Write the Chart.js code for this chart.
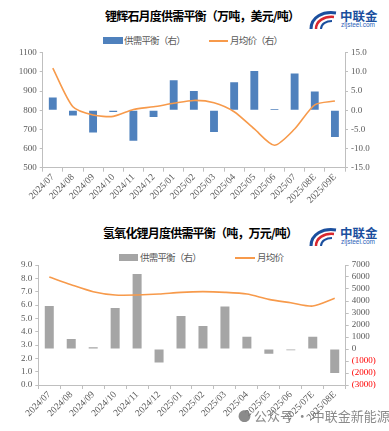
<!DOCTYPE html>
<html><head><meta charset="utf-8">
<script src="https://cdn.jsdelivr.net/npm/chart.js@4.4.1/dist/chart.umd.min.js"></script>
<style>
html,body{margin:0;padding:0;background:#fff;}
body{width:389px;height:431px;position:relative;overflow:hidden;font-family:"Noto Sans CJK SC","Noto Sans",sans-serif;}
.c{position:absolute;left:0;width:389px;}
.title{position:absolute;font-weight:bold;font-size:12px;color:#000;white-space:nowrap;line-height:16px;letter-spacing:-0.8px;}
.leg{position:absolute;font-size:9.5px;color:#595959;white-space:nowrap;line-height:13px;letter-spacing:-0.8px;}
.sw{position:absolute;}
.logo{position:absolute;width:72px;height:22px;}
.logo .t{position:absolute;left:32px;top:-3px;font-weight:bold;font-size:12.5px;color:#1b4f9e;}
.logo .u{position:absolute;left:33px;top:12px;font-size:6.5px;color:#2b62b8;font-family:"Liberation Sans",sans-serif;}
.wm{position:absolute;left:238px;top:406px;font-size:13px;color:#777;white-space:nowrap;opacity:.85;}
</style></head><body>

<div class="title" style="left:105px;top:8px;">锂辉石月度供需平衡（万吨，美元/吨）</div>
<div class="logo" style="left:308px;top:9px;">
<svg width="30" height="22" viewBox="0 0 30 22" style="position:absolute;left:0;top:0">
<path d="M3 20 C 3 8, 15 2, 28 4" stroke="#1b4f9e" stroke-width="3" fill="none"/>
<path d="M8 20 C 8 12, 16 7, 26 8" stroke="#d8282f" stroke-width="2.5" fill="none"/>
<path d="M13 20 C 13 15, 18 12, 24 12" stroke="#1b4f9e" stroke-width="2" fill="none"/>
</svg>
<span class="t">中联金</span><span class="u">zljsteel.com</span></div>
<div class="sw" style="left:103px;top:37px;width:20px;height:7px;background:#4f81bd;"></div>
<div class="leg" style="left:124px;top:34px;">供需平衡（右）</div>
<div class="sw" style="left:209px;top:40px;width:19px;height:1.5px;background:#f79a4b;"></div>
<div class="leg" style="left:230px;top:34px;">月均价（右）</div>
<div class="c" style="top:40px;height:170px;"><canvas id="c1"></canvas></div>

<div class="title" style="left:103px;top:225px;">氢氧化锂月度供需平衡（吨，万元/吨）</div>
<div class="logo" style="left:308px;top:226px;">
<svg width="30" height="22" viewBox="0 0 30 22" style="position:absolute;left:0;top:0">
<path d="M3 20 C 3 8, 15 2, 28 4" stroke="#1b4f9e" stroke-width="3" fill="none"/>
<path d="M8 20 C 8 12, 16 7, 26 8" stroke="#d8282f" stroke-width="2.5" fill="none"/>
<path d="M13 20 C 13 15, 18 12, 24 12" stroke="#1b4f9e" stroke-width="2" fill="none"/>
</svg>
<span class="t">中联金</span><span class="u">zljsteel.com</span></div>
<div class="sw" style="left:119px;top:254px;width:19px;height:7px;background:#a5a5a5;"></div>
<div class="leg" style="left:140px;top:251px;">供需平衡（右）</div>
<div class="sw" style="left:235px;top:257px;width:20px;height:1.5px;background:#f79a4b;"></div>
<div class="leg" style="left:257px;top:251px;">月均价</div>
<div class="c" style="top:252px;height:179px;"><canvas id="c2"></canvas></div>

<div class="wm">● 公众号 · 中联金新能源</div>

<script>
// ---- Chart 1: 锂辉石 ----
const cats1 = ['2024/07','2024/08','2024/09','2024/10','2024/11','2024/12','2025/01','2025/02','2025/03','2025/04','2025/05','2025/06','2025/07','2025/08E','2025/09E'];
const balance1 = [3.3, -1.4, -5.8, -0.5, -8.0, -1.8, 7.8, 5.0, -5.7, 7.3, 10.2, 0.3, 9.6, 4.9, -7.0];
const price1 = [1020, 818, 775, 768, 804, 818, 836, 851, 839, 792, 702, 617, 702, 828, 848];

// ---- Chart 2: 氢氧化锂 ----
const cats2 = ['2024/07','2024/08','2024/09','2024/10','2024/11','2024/12','2025/01','2025/02','2025/03','2025/04','2025/05','2025/06','2025/07E','2025/08E'];
const balance2 = [3580, 830, 150, 3420, 6250, -1130, 2750, 1920, 3550, 1030, -400, -100, 1030, -2000];
const price2 = [8.1, 7.52, 7.0, 6.75, 6.75, 6.82, 6.95, 7.0, 6.95, 6.82, 6.42, 6.17, 5.92, 6.5];

const AX = '#bfbfbf', TXT = '#595959';
const tickFont = {family:'"Liberation Serif", serif', size:9};
const xFont = {family:'"Liberation Serif", serif', size:9.5};

function makeChart(id, cats, bal, price, barColor, cfg) {
  return new Chart(document.getElementById(id), {
    data: {
      labels: cats,
      datasets: [
        {type:'line', label:'月均价', data:price, yAxisID:'y', borderColor:'#f79a4b', borderWidth:1.6,
         pointRadius:0, tension:0.25, order:0},
        {type:'bar', label:'供需平衡（右）', data:bal, yAxisID:'y1', backgroundColor:barColor,
         categoryPercentage:1, barPercentage:cfg.barPct, order:1}
      ]
    },
    options: {
      responsive:true, maintainAspectRatio:false, animation:false,
      layout:{padding:{top:cfg.padTop, left:0, right:0, bottom:0}},
      plugins:{legend:{display:false}, tooltip:{enabled:false}},
      scales:{
        x:{
          offset:true,
          grid:{display:true, drawOnChartArea:false, offset:true, tickLength:4, color:AX},
          border:{color:AX},
          ticks:{font:xFont, color:TXT, maxRotation:45, minRotation:45, autoSkip:false, padding:0},
          afterFit(s){ s.height = cfg.xH; }
        },
        y:{
          position:'left', min:cfg.yMin, max:cfg.yMax,
          grid:{display:true, drawOnChartArea:false, tickLength:3, color:AX},
          border:{color:AX},
          ticks:{font:tickFont, color:TXT, stepSize:cfg.yStep, padding:3, autoSkip:false, callback:cfg.yFmt},
          afterFit(s){ s.width = cfg.lW; }
        },
        y1:{
          position:'right', min:cfg.y1Min, max:cfg.y1Max,
          grid:{display:true, drawOnChartArea:false, tickLength:3, color:AX},
          border:{color:AX},
          ticks:{font:tickFont, stepSize:cfg.y1Step, padding:3, autoSkip:false, callback:cfg.y1Fmt,
                 color:(c)=> (c.tick && c.tick.value < 0 && cfg.redNeg) ? '#ff0000' : TXT},
          afterFit(s){ s.width = cfg.rW; }
        }
      }
    }
  });
}

makeChart('c1', cats1, balance1, price1, '#4f81bd', {
  barPct:0.39, padTop:12.7, xH:42.3, lW:42.7, rW:44,
  yMin:500, yMax:1100, yStep:100, yFmt:(v)=>String(v),
  y1Min:-15, y1Max:15, y1Step:5, y1Fmt:(v)=>Number(v).toFixed(1), redNeg:false
});

makeChart('c2', cats2, balance2, price2, '#a5a5a5', {
  barPct:0.41, padTop:13, xH:46, lW:38.3, rW:43.3,
  yMin:0, yMax:9, yStep:1, yFmt:(v)=>Number(v).toFixed(1),
  y1Min:-3000, y1Max:7000, y1Step:1000, y1Fmt:(v)=> v<0 ? '('+(-v)+')' : String(v), redNeg:true
});
</script>
</body></html>
